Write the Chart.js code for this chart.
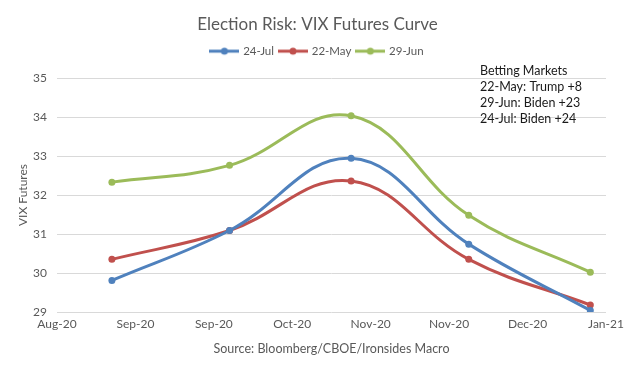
<!DOCTYPE html>
<html>
<head>
<meta charset="utf-8">
<script src="https://cdn.jsdelivr.net/npm/chart.js@4/dist/chart.umd.min.js"></script>
<style>
  html, body { margin: 0; padding: 0; background: #fff; }
  #wrap { width: 635px; height: 368px; }
</style>
</head>
<body>
<div id="wrap"><canvas id="chart"></canvas></div>
<script>
// ── Data ─────────────────────────────────────────────────────────────────────
const expiryDates = ['2020-08-31', '2020-09-30', '2020-10-31', '2020-11-30', '2020-12-31'];
const vixJul24 = [29.81, 31.09, 32.94, 30.74, 29.04];
const vixMay22 = [30.35, 31.09, 32.36, 30.35, 29.18];
const vixJun29 = [32.33, 32.76, 34.03, 31.48, 30.02];
const xTickLabels = ['Aug-20', 'Sep-20', 'Sep-20', 'Oct-20', 'Nov-20', 'Nov-20', 'Dec-20', 'Jan-21'];
const yTicks = [29, 30, 31, 32, 33, 34, 35];
const noteLines = ['Betting Markets', '22-May: Trump +8', '29-Jun: Biden +23', '24-Jul: Biden +24'];

// ── Theme ────────────────────────────────────────────────────────────────────
const COLORS = {
  blue: '#4F81BD',
  red: '#C0504D',
  green: '#9BBB59',
  text: '#595959',
  grid: '#D9D9D9',
};
const FONT = "Lato, 'Open Sans', sans-serif";

// excel-style day serial, so the axis lines up with 20-day ticks
function toSerial(iso) {
  const [y, m, d] = iso.split('-').map(Number);
  return Date.UTC(y, m - 1, d) / 86400000 + 25569;
}
const xs = expiryDates.map(toSerial);
const pts = (vals) => vals.map((v, i) => ({ x: xs[i], y: v }));

function legendIcon(color) {
  const c = document.createElement('canvas');
  c.width = 30; c.height = 10;
  const g = c.getContext('2d');
  g.strokeStyle = color; g.lineWidth = 3;
  g.beginPath(); g.moveTo(0, 5); g.lineTo(30, 5); g.stroke();
  g.fillStyle = color;
  g.beginPath(); g.arc(15, 5, 3.5, 0, Math.PI * 2); g.fill();
  return c;
}

function series(label, vals, color) {
  return {
    label,
    data: pts(vals),
    borderColor: color,
    backgroundColor: color,
    pointStyle: 'circle',
    pointRadius: 3.5,
    pointBorderWidth: 0,
    borderWidth: 3,
    tension: 0.4,
    icon: legendIcon(color),
  };
}

// text box in the top right corner
const notePlugin = {
  id: 'notes',
  afterDraw(chart) {
    const ctx = chart.ctx;
    ctx.save();
    ctx.font = '12.5px ' + FONT;
    ctx.fillStyle = '#1a1a1a';
    ctx.textBaseline = 'middle';
    noteLines.forEach((t, i) => ctx.fillText(t, 480, 71 + i * 16));
    ctx.restore();
  },
};

// fixed legend height so the plot starts where the reference does,
// and centre title + legend on the whole canvas rather than the padded box
const headerFix = {
  id: 'headerFix',
  beforeInit(chart) {
    const fit = chart.legend.fit;
    chart.legend.fit = function () {
      fit.call(this);
      this.height = 38.6;
    };
  },
  afterLayout(chart) {
    [chart.legend, chart.titleBlock].forEach((b) => {
      b.left += 9;
      b.right += 9;
    });
  },
};

new Chart(document.getElementById('chart'), {
  type: 'line',
  data: {
    datasets: [
      series('24-Jul', vixJul24, COLORS.blue),
      series('22-May', vixMay22, COLORS.red),
      series('29-Jun', vixJun29, COLORS.green),
    ],
  },
  options: {
    responsive: true,
    maintainAspectRatio: false,
    animation: false,
    layout: { padding: { left: 11, right: 29, top: 14, bottom: 8 } },
    plugins: {
      title: {
        display: true,
        text: 'Election Risk: VIX Futures Curve',
        color: COLORS.text,
        font: { family: FONT, size: 17, weight: 'normal' },
        padding: { top: 0, bottom: 5 },
      },
      legend: {
        position: 'top',
        labels: {
          color: COLORS.text,
          font: { family: FONT, size: 11.5 },
          usePointStyle: true,
          pointStyleWidth: 26,
          padding: 6,
          generateLabels: (chart) => chart.data.datasets.map((ds, i) => ({
            text: ds.label,
            pointStyle: ds.icon,
            fontColor: COLORS.text,
            datasetIndex: i,
            hidden: false,
            lineWidth: 0,
          })),
        },
      },
      tooltip: { enabled: false },
    },
    scales: {
      x: {
        type: 'linear',
        min: toSerial('2020-08-17'),
        max: toSerial('2021-01-04'),
        afterFit: (s) => { s.height = 48; },
        grid: { display: false, drawTicks: false },
        border: { display: false },
        ticks: {
          stepSize: 20,
          color: COLORS.text,
          font: { family: FONT, size: 12 },
          padding: 5,
          maxRotation: 0,
          autoSkip: false,
          callback: (v, i) => xTickLabels[i],
        },
        title: {
          display: true,
          text: 'Source: Bloomberg/CBOE/Ironsides Macro',
          color: COLORS.text,
          font: { family: FONT, size: 12.5 },
          padding: { top: 0, bottom: 4 },
        },
      },
      y: {
        min: yTicks[0],
        max: yTicks[yTicks.length - 1],
        afterFit: (s) => { s.width = 46; },
        grid: { color: COLORS.grid, drawTicks: false },
        border: { display: false },
        ticks: {
          stepSize: 1,
          color: COLORS.text,
          font: { family: FONT, size: 12 },
          padding: 10,
        },
        title: {
          display: true,
          text: 'VIX Futures',
          color: COLORS.text,
          font: { family: FONT, size: 12 },
          padding: { top: 5, bottom: 0 },
        },
      },
    },
  },
  plugins: [notePlugin, headerFix],
});
</script>
</body>
</html>
